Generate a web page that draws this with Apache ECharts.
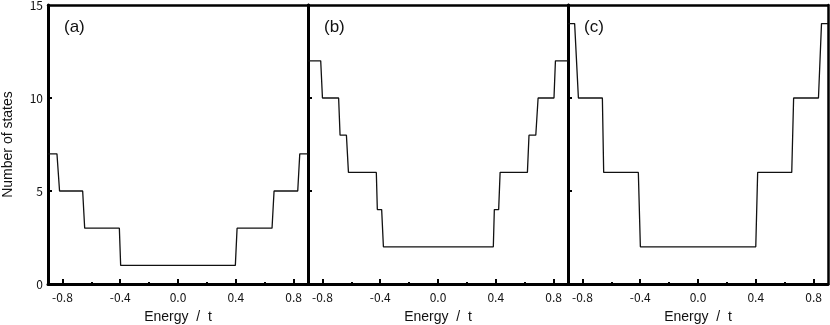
<!DOCTYPE html>
<html>
<head>
<meta charset="utf-8">
<script src="https://cdn.jsdelivr.net/npm/echarts@6/dist/echarts.min.js"></script>
<style>
  html, body { margin: 0; padding: 0; background: #fff; }
  #chart { width: 830px; height: 325px; }
</style>
</head>
<body>
<div id="chart"></div>
<script>
// step breakpoints (energy / t , number of states)
const aE = [-0.9, -0.838, -0.82, -0.66, -0.646, -0.406, -0.397, 0.397, 0.409, 0.651, 0.665, 0.829, 0.843, 0.9];
const aN = [7, 7, 5, 5, 3, 3, 1, 1, 3, 3, 5, 5, 7, 7];

const bE = [-0.9, -0.812, -0.8, -0.688, -0.678, -0.634, -0.62, -0.427, -0.42, -0.39, -0.378,
            0.383, 0.39, 0.42, 0.43, 0.619, 0.63, 0.677, 0.693, 0.803, 0.813, 0.9];
const bN = [12, 12, 10, 10, 8, 8, 6, 6, 4, 4, 2, 2, 4, 4, 6, 6, 8, 8, 10, 10, 12, 12];

const cE = [-0.9, -0.854, -0.828, -0.662, -0.653, -0.413, -0.399, 0.4, 0.413, 0.649, 0.662, 0.834, 0.855, 0.9];
const cN = [14, 14, 10, 10, 6, 6, 2, 2, 6, 6, 10, 10, 14, 14];

const panelNames = ["(a)", "(b)", "(c)"];
const xMajor = [-0.8, -0.4, 0, 0.4, 0.8];
const xMinor = [-0.6, -0.2, 0.2, 0.6];
const yMajor = [0, 5, 10, 15];
const yMinor = [2.5, 7.5, 12.5];

const panels = [[aE, aN], [bE, bN], [cE, cN]];
const lefts = [48, 308, 568];
const font = "'Noto Sans CJK JP', 'Liberation Sans', sans-serif";
const nameFont = "'Liberation Sans', Arial, sans-serif";

let chart = echarts.init(document.getElementById("chart"));

let grid = [], xAxis = [], yAxis = [], series = [], title = [];

panels.forEach((p, i) => {
  // fixed plot box, don't let v6 shrink it to fit the names
  grid.push({ left: lefts[i], width: 260, top: 5, height: 279, outerBoundsMode: "none", containLabel: false });

  title.push({
    text: panelNames[i],
    left: lefts[i] + 11,
    top: 14,
    textStyle: { fontFamily: nameFont, fontSize: 17, fontWeight: "normal", color: "#111" }
  });

  // bottom axis with major ticks + labels
  xAxis.push({
    type: "value", gridIndex: i, min: -0.9, max: 0.9, position: "bottom",
    name: "Energy  /  t", nameLocation: "middle", nameGap: 26,
    nameTextStyle: { fontFamily: nameFont, fontSize: 14, color: "#111" },
    axisLine: { onZero: false, lineStyle: { color: "#000", width: 3 } },
    axisTick: { inside: true, length: 5, customValues: xMajor, lineStyle: { color: "#000", width: 2 } },
    axisLabel: { customValues: xMajor, formatter: v => v.toFixed(1), margin: 7,
                 fontFamily: font, fontSize: 12, color: "#111" },
    splitLine: { show: false }
  });
  // minor ticks
  xAxis.push({
    type: "value", gridIndex: i, min: -0.9, max: 0.9, position: "bottom",
    axisLine: { show: false, onZero: false },
    axisTick: { inside: true, length: 2, customValues: xMinor, lineStyle: { color: "#000", width: 2 } },
    axisLabel: { show: false }, splitLine: { show: false }
  });
  // top frame
  xAxis.push({
    type: "value", gridIndex: i, min: -0.9, max: 0.9, position: "top",
    axisLine: { onZero: false, lineStyle: { color: "#000", width: 2.5 } },
    axisTick: { show: false }, axisLabel: { show: false }, splitLine: { show: false }
  });

  yAxis.push({
    type: "value", gridIndex: i, min: 0, max: 15, position: "left",
    name: i === 0 ? "Number of states" : "", nameLocation: "middle", nameGap: 33,
    nameTextStyle: { fontFamily: nameFont, fontSize: 14, color: "#111" },
    axisLine: { onZero: false, lineStyle: { color: "#000", width: 3 } },
    axisTick: { inside: true, length: 4, customValues: [5, 10], lineStyle: { color: "#000", width: 2 } },
    axisLabel: { show: i === 0, customValues: yMajor, margin: 5,
                 fontFamily: font, fontSize: 12, color: "#111" },
    splitLine: { show: false }
  });
  yAxis.push({
    type: "value", gridIndex: i, min: 0, max: 15, position: "left",
    axisLine: { show: false, onZero: false },
    axisTick: { inside: true, length: 2, customValues: yMinor, lineStyle: { color: "#000", width: 2 } },
    axisLabel: { show: false }, splitLine: { show: false }
  });
  // right frame
  yAxis.push({
    type: "value", gridIndex: i, min: 0, max: 15, position: "right",
    axisLine: { onZero: false, lineStyle: { color: "#000", width: 2.5 } },
    axisTick: { show: false }, axisLabel: { show: false }, splitLine: { show: false }
  });

  series.push({
    type: "line",
    xAxisIndex: i * 3, yAxisIndex: i * 3,
    data: p[0].map((e, k) => [e, p[1][k]]),
    showSymbol: false,
    lineStyle: { color: "#111", width: 1.3 },
    animation: false
  });
});

chart.setOption({ animation: false, title, grid, xAxis, yAxis, series });
</script>
</body>
</html>
